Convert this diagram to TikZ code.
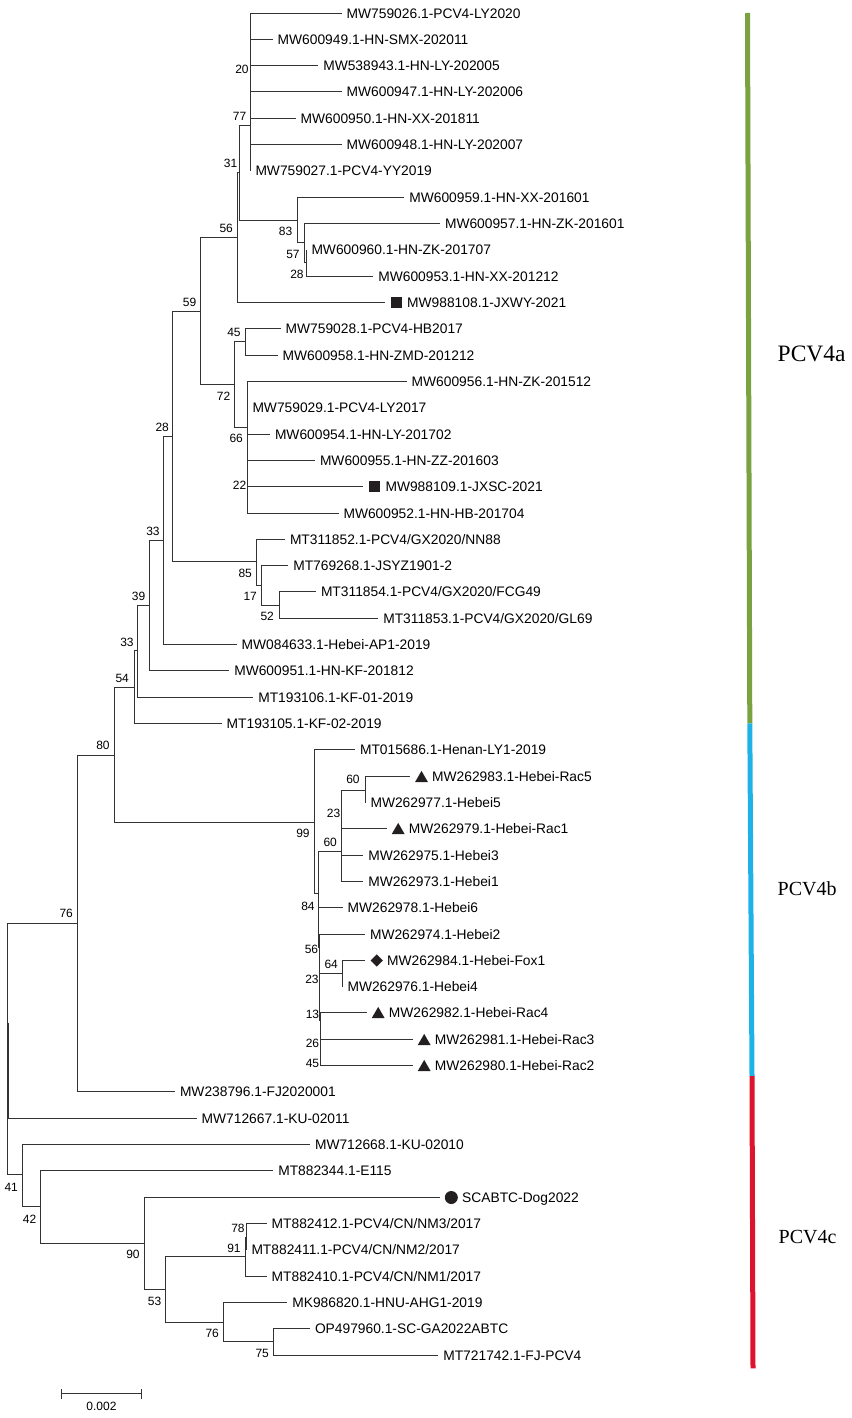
\documentclass[tikz,border=0pt]{standalone}
\usepackage{fontspec}
\setmainfont{Liberation Sans}
\newfontfamily\cladeserif{Liberation Serif}
\usetikzlibrary{shapes.geometric}
\def\tipfont{\fontsize{6.9pt}{8pt}\selectfont}
\def\bootfont{\fontsize{6pt}{7pt}\selectfont}
\definecolor{cladeA}{RGB}{122,162,64}
\definecolor{cladeB}{RGB}{30,178,230}
\definecolor{cladeC}{RGB}{220,20,45}
\definecolor{markgray}{RGB}{35,31,32}
\tikzset{
  branch/.style={draw=black!80, line width=0.6pt},
  tip/.style={anchor=west, inner sep=0pt, text height=4.94pt, text depth=0pt, xshift=2.3pt, font=\tipfont},
  mtip/.style={anchor=west, inner sep=0pt, text height=4.94pt, text depth=0pt, xshift=10.9pt, font=\tipfont},
  boot/.style={anchor=east, inner sep=0pt, text height=4.3pt, text depth=0pt, font=\bootfont},
  sqmark/.style={rectangle, fill=markgray, inner sep=0pt, minimum size=5.5pt},
  trimark/.style={regular polygon, regular polygon sides=3, fill=markgray, inner sep=0pt, minimum size=7.5pt},
  dimark/.style={diamond, fill=markgray, inner sep=0pt, minimum size=6.3pt},
  dotmark/.style={circle, fill=markgray, inner sep=0pt, minimum size=6.5pt},
  clade/.style={anchor=west, inner sep=0pt, text depth=0pt},
}
\begin{document}
\begin{tikzpicture}[x=0.5pt,y=0.5pt,yscale=-1,xscale=1]
		\useasboundingbox (0,0) rectangle (851,1418);
		% leaf tips
		\coordinate (l1) at (341.7,13.5);
		\coordinate (l2) at (272.7,39.5);
		\coordinate (l3) at (318.3,65.5);
		\coordinate (l4) at (341.7,91.5);
		\coordinate (l5) at (295.7,118.5);
		\coordinate (l6) at (341.7,144.5);
		\coordinate (l7) at (250.5,170.5);
		\coordinate (l8) at (404.3,197.5);
		\coordinate (l9) at (440,223.5);
		\coordinate (l10) at (306.5,249.5);
		\coordinate (l11) at (373.3,276.5);
		\coordinate (l12) at (385,302.5);
		\coordinate (l13) at (280.7,328.5);
		\coordinate (l14) at (277.7,355.5);
		\coordinate (l15) at (406.7,381.5);
		\coordinate (l16) at (247.5,407.5);
		\coordinate (l17) at (270,434.5);
		\coordinate (l18) at (315,460.5);
		\coordinate (l19) at (363.3,486.5);
		\coordinate (l20) at (338.5,513.5);
		\coordinate (l21) at (285,539.5);
		\coordinate (l22) at (288.3,565.5);
		\coordinate (l23) at (316,591.5);
		\coordinate (l24) at (378.3,618.5);
		\coordinate (l25) at (236.7,644.5);
		\coordinate (l26) at (229.3,670.5);
		\coordinate (l27) at (253.3,697.5);
		\coordinate (l28) at (221.7,723.5);
		\coordinate (l29) at (355,749.5);
		\coordinate (l30) at (410,776.5);
		\coordinate (l31) at (365.5,802.5);
		\coordinate (l32) at (386.7,828.5);
		\coordinate (l33) at (363.3,855.5);
		\coordinate (l34) at (363.3,881.5);
		\coordinate (l35) at (342.7,907.5);
		\coordinate (l36) at (365,934.5);
		\coordinate (l37) at (365,960.5);
		\coordinate (l38) at (342.5,986.5);
		\coordinate (l39) at (366.7,1012.5);
		\coordinate (l40) at (412.7,1039.5);
		\coordinate (l41) at (412.7,1065.5);
		\coordinate (l42) at (175,1091.5);
		\coordinate (l43) at (196.7,1118.5);
		\coordinate (l44) at (310,1144.5);
		\coordinate (l45) at (273.3,1170.5);
		\coordinate (l46) at (440,1197.5);
		\coordinate (l47) at (266.7,1223.5);
		\coordinate (l48) at (246.5,1249.5);
		\coordinate (l49) at (266.7,1276.5);
		\coordinate (l50) at (287.3,1302.5);
		\coordinate (l51) at (310,1328.5);
		\coordinate (l52) at (438.3,1355.5);
		% inner nodes
		\coordinate (nA) at (250.5,125.5);
		\coordinate (n83) at (297.5,220.5);
		\coordinate (n57) at (304.5,242.5);
		\coordinate (n28u) at (306.5,262.5);
		\coordinate (n31) at (239.5,172.5);
		\coordinate (n56u) at (237.5,237.5);
		\coordinate (n59) at (200.5,311.5);
		\coordinate (n72) at (234.5,384.5);
		\coordinate (n45u) at (245.5,341.5);
		\coordinate (n66) at (247.5,427.5);
		\coordinate (n22) at (247.5,486.5);
		\coordinate (n28) at (172.5,436.5);
		\coordinate (n85) at (256.5,561.5);
		\coordinate (n17) at (261.5,585.5);
		\coordinate (n52) at (279.5,605.5);
		\coordinate (n33u) at (163.5,540.5);
		\coordinate (n39) at (149.5,605.5);
		\coordinate (n33l) at (137.5,650.5);
		\coordinate (n54) at (134.5,687.5);
		\coordinate (n80) at (114.5,755.5);
		\coordinate (n99) at (314.5,822.5);
		\coordinate (n84) at (318.5,893.5);
		\coordinate (n60l) at (341.5,851.5);
		\coordinate (n23u) at (341.5,810.5);
		\coordinate (n60u) at (365.5,790.5);
		\coordinate (n56l) at (319.5,947.5);
		\coordinate (n23l) at (319.5,990.5);
		\coordinate (n64) at (342.5,973.5);
		\coordinate (n13) at (320.5,1020.5);
		\coordinate (n26) at (320.5,1045.5);
		\coordinate (n76u) at (77.5,923.5);
		\coordinate (root) at (7.5,1022.5);
		\coordinate (n41) at (22.5,1174.5);
		\coordinate (n42) at (40.5,1206.5);
		\coordinate (n90) at (144.5,1243.5);
		\coordinate (n53) at (165.5,1289.5);
		\coordinate (n91) at (245.5,1256.5);
		\coordinate (n78) at (246.5,1237.5);
		\coordinate (n76l) at (223.5,1322.5);
		\coordinate (n75) at (273.5,1341.5);
		% branches
		\draw [branch] (nA) |- (l1) (nA) |- (l2) (nA) |- (l3) (nA) |- (l4) (nA) |- (l5) (nA) |- (l6) (nA) |- (l7)
			(n31) |- (nA) (n31) |- (n83)
			(n83) |- (l8) (n83) |- (n57)
			(n57) |- (l9) (n57) |- (n28u)
			(n28u) |- (l10) (n28u) |- (l11)
			(n56u) |- (n31) (n56u) |- (l12)
			(n59) |- (n56u) (n59) |- (n72)
			(n72) |- (n45u) (n72) |- (n66)
			(n45u) |- (l13) (n45u) |- (l14)
			(n66) |- (l15) (n66) |- (l16) (n66) |- (l17) (n66) |- (n22)
			(n22) |- (l18) (n22) |- (l19) (n22) |- (l20)
			(n28) |- (n59) (n28) |- (n85)
			(n85) |- (l21) (n85) |- (n17)
			(n17) |- (l22) (n17) |- (n52)
			(n52) |- (l23) (n52) |- (l24)
			(n33u) |- (n28) (n33u) |- (l25)
			(n39) |- (n33u) (n39) |- (l26)
			(n33l) |- (n39) (n33l) |- (l27)
			(n54) |- (n33l) (n54) |- (l28)
			(n80) |- (n54) (n80) |- (n99)
			(n99) |- (l29) (n99) |- (n84)
			(n84) |- (n60l) (n84) |- (l35) (n84) |- (n56l)
			(n60l) |- (n23u) (n60l) |- (l33) (n60l) |- (l34)
			(n23u) |- (n60u) (n23u) |- (l32)
			(n60u) |- (l30) (n60u) |- (l31)
			(n56l) |- (l36) (n56l) |- (n23l)
			(n23l) |- (n64) (n23l) |- (n13)
			(n64) |- (l37) (n64) |- (l38)
			(n13) |- (l39) (n13) |- (n26)
			(n26) |- (l40) (n26) |- (l41)
			(n76u) |- (n80) (n76u) |- (l42)
			(root) |- (n76u) (root) |- (l43) (root) |- (n41)
			(n41) |- (l44) (n41) |- (n42)
			(n42) |- (l45) (n42) |- (n90)
			(n90) |- (l46) (n90) |- (n53)
			(n53) |- (n91) (n53) |- (n76l)
			(n91) |- (n78) (n91) |- (l49)
			(n78) |- (l47) (n78) |- (l48)
			(n76l) |- (l50) (n76l) |- (n75)
			(n75) |- (l51) (n75) |- (l52);
		\draw [branch, line width=1pt] (root) -- (root |- l43);
		% markers
		\node [sqmark] (m12) at (396,302.5) {};
		\node [sqmark] (m19) at (374.3,486.5) {};
		\node [trimark] (m30) at (421.5,778.4) {};
		\node [trimark] (m32) at (398.2,830.4) {};
		\node [dimark] (m37) at (376.7,960.5) {};
		\node [trimark] (m39) at (378.2,1014.4) {};
		\node [trimark] (m40) at (424.2,1041.4) {};
		\node [trimark] (m41) at (424.2,1067.4) {};
		\node [dotmark] (m46) at (451.3,1197.5) {};
		% leaf labels
		\node [tip] (t1) at (l1) {MW759026.1-PCV4-LY2020};
		\node [tip] (t2) at (l2) {MW600949.1-HN-SMX-202011};
		\node [tip] (t3) at (l3) {MW538943.1-HN-LY-202005};
		\node [tip] (t4) at (l4) {MW600947.1-HN-LY-202006};
		\node [tip] (t5) at (l5) {MW600950.1-HN-XX-201811};
		\node [tip] (t6) at (l6) {MW600948.1-HN-LY-202007};
		\node [tip] (t7) at (l7) {MW759027.1-PCV4-YY2019};
		\node [tip] (t8) at (l8) {MW600959.1-HN-XX-201601};
		\node [tip] (t9) at (l9) {MW600957.1-HN-ZK-201601};
		\node [tip] (t10) at (l10) {MW600960.1-HN-ZK-201707};
		\node [tip] (t11) at (l11) {MW600953.1-HN-XX-201212};
		\node [mtip] (t12) at (l12) {MW988108.1-JXWY-2021};
		\node [tip] (t13) at (l13) {MW759028.1-PCV4-HB2017};
		\node [tip] (t14) at (l14) {MW600958.1-HN-ZMD-201212};
		\node [tip] (t15) at (l15) {MW600956.1-HN-ZK-201512};
		\node [tip] (t16) at (l16) {MW759029.1-PCV4-LY2017};
		\node [tip] (t17) at (l17) {MW600954.1-HN-LY-201702};
		\node [tip] (t18) at (l18) {MW600955.1-HN-ZZ-201603};
		\node [mtip] (t19) at (l19) {MW988109.1-JXSC-2021};
		\node [tip] (t20) at (l20) {MW600952.1-HN-HB-201704};
		\node [tip] (t21) at (l21) {MT311852.1-PCV4/GX2020/NN88};
		\node [tip] (t22) at (l22) {MT769268.1-JSYZ1901-2};
		\node [tip] (t23) at (l23) {MT311854.1-PCV4/GX2020/FCG49};
		\node [tip] (t24) at (l24) {MT311853.1-PCV4/GX2020/GL69};
		\node [tip] (t25) at (l25) {MW084633.1-Hebei-AP1-2019};
		\node [tip] (t26) at (l26) {MW600951.1-HN-KF-201812};
		\node [tip] (t27) at (l27) {MT193106.1-KF-01-2019};
		\node [tip] (t28) at (l28) {MT193105.1-KF-02-2019};
		\node [tip] (t29) at (l29) {MT015686.1-Henan-LY1-2019};
		\node [mtip] (t30) at (l30) {MW262983.1-Hebei-Rac5};
		\node [tip] (t31) at (l31) {MW262977.1-Hebei5};
		\node [mtip] (t32) at (l32) {MW262979.1-Hebei-Rac1};
		\node [tip] (t33) at (l33) {MW262975.1-Hebei3};
		\node [tip] (t34) at (l34) {MW262973.1-Hebei1};
		\node [tip] (t35) at (l35) {MW262978.1-Hebei6};
		\node [tip] (t36) at (l36) {MW262974.1-Hebei2};
		\node [mtip] (t37) at (l37) {MW262984.1-Hebei-Fox1};
		\node [tip] (t38) at (l38) {MW262976.1-Hebei4};
		\node [mtip] (t39) at (l39) {MW262982.1-Hebei-Rac4};
		\node [mtip] (t40) at (l40) {MW262981.1-Hebei-Rac3};
		\node [mtip] (t41) at (l41) {MW262980.1-Hebei-Rac2};
		\node [tip] (t42) at (l42) {MW238796.1-FJ2020001};
		\node [tip] (t43) at (l43) {MW712667.1-KU-02011};
		\node [tip] (t44) at (l44) {MW712668.1-KU-02010};
		\node [tip] (t45) at (l45) {MT882344.1-E115};
		\node [mtip] (t46) at (l46) {SCABTC-Dog2022};
		\node [tip] (t47) at (l47) {MT882412.1-PCV4/CN/NM3/2017};
		\node [tip] (t48) at (l48) {MT882411.1-PCV4/CN/NM2/2017};
		\node [tip] (t49) at (l49) {MT882410.1-PCV4/CN/NM1/2017};
		\node [tip] (t50) at (l50) {MK986820.1-HNU-AHG1-2019};
		\node [tip] (t51) at (l51) {OP497960.1-SC-GA2022ABTC};
		\node [tip] (t52) at (l52) {MT721742.1-FJ-PCV4};
		% bootstrap values
		\node [boot] (b20) at (249,69.3) {20};
		\node [boot] (b77) at (246.7,115.7) {77};
		\node [boot] (b31) at (237.7,163.3) {31};
		\node [boot] (b56u) at (233.3,228.3) {56};
		\node [boot] (b83) at (292.7,231) {83};
		\node [boot] (b57) at (300,254.3) {57};
		\node [boot] (b28u) at (304,274) {28};
		\node [boot] (b59) at (196.7,301.7) {59};
		\node [boot] (b45u) at (241,332.3) {45};
		\node [boot] (b72) at (230.7,396) {72};
		\node [boot] (b66) at (243.3,438.3) {66};
		\node [boot] (b22) at (246.7,485) {22};
		\node [boot] (b28) at (169.3,426.7) {28};
		\node [boot] (b85) at (252.3,573.3) {85};
		\node [boot] (b17) at (257.3,596) {17};
		\node [boot] (b52) at (274.3,616) {52};
		\node [boot] (b33u) at (160,530.7) {33};
		\node [boot] (b39) at (145.7,596) {39};
		\node [boot] (b33l) at (134,641.7) {33};
		\node [boot] (b54) at (129.3,677.7) {54};
		\node [boot] (b80) at (110,745) {80};
		\node [boot] (b99) at (310,833) {99};
		\node [boot] (b84) at (315,905.7) {84};
		\node [boot] (b56l) at (318.5,949.3) {56};
		\node [boot] (b23l) at (319,979.3) {23};
		\node [boot] (b13) at (319.5,1014.3) {13};
		\node [boot] (b26) at (319.5,1043.3) {26};
		\node [boot] (b45l) at (319.5,1063.3) {45};
		\node [boot] (b64) at (338.3,964) {64};
		\node [boot] (b60u) at (360,779.3) {60};
		\node [boot] (b23u) at (340.7,812.7) {23};
		\node [boot] (b60l) at (337.3,841.7) {60};
		\node [boot] (b76u) at (73.3,913.3) {76};
		\node [boot] (b41) at (18.3,1187.3) {41};
		\node [boot] (b42) at (36.7,1219.3) {42};
		\node [boot] (b90) at (140,1254.3) {90};
		\node [boot] (b53) at (161.7,1301) {53};
		\node [boot] (b78) at (245,1227.7) {78};
		\node [boot] (b91) at (241,1247.7) {91};
		\node [boot] (b76l) at (219.3,1333.3) {76};
		\node [boot] (b75) at (269.3,1353.3) {75};
		% scale bar
		\coordinate (sbl) at (61.5,1393.5);
		\coordinate (sbr) at (141.5,1393.5);
		\draw [branch] (sbl) -- (sbr) ([yshift=2.5pt]sbl) -- ([yshift=-2.5pt]sbl) ([yshift=2.5pt]sbr) -- ([yshift=-2.5pt]sbr);
		\node [boot, anchor=center] (sblabel) at (101.5,1406) {0.002};
		% clade bars
		\coordinate (barTop) at (747.5,13);
		\coordinate (barAB) at (749.8,723.3);
		\coordinate (barBC) at (752,1076);
		\coordinate (barEnd) at (753,1368.3);
		\draw [cladeA, line width=2.5pt] (barTop) -- (barAB);
		\draw [cladeB, line width=2.5pt] (barAB) -- (barBC);
		\draw [cladeC, line width=2.5pt] (barBC) -- (barEnd);
		\node [clade, text height=7.8pt, font=\cladeserif\fontsize{11.75pt}{13pt}\selectfont] (pcva) at (777.3,354) {PCV4a};
		\node [clade, text height=6.6pt, font=\cladeserif\fontsize{10pt}{12pt}\selectfont] (pcvb) at (777.3,889.3) {PCV4b};
		\node [clade, text height=6.6pt, font=\cladeserif\fontsize{10pt}{12pt}\selectfont] (pcvc) at (778.3,1237.3) {PCV4c};
\end{tikzpicture}
\end{document}
